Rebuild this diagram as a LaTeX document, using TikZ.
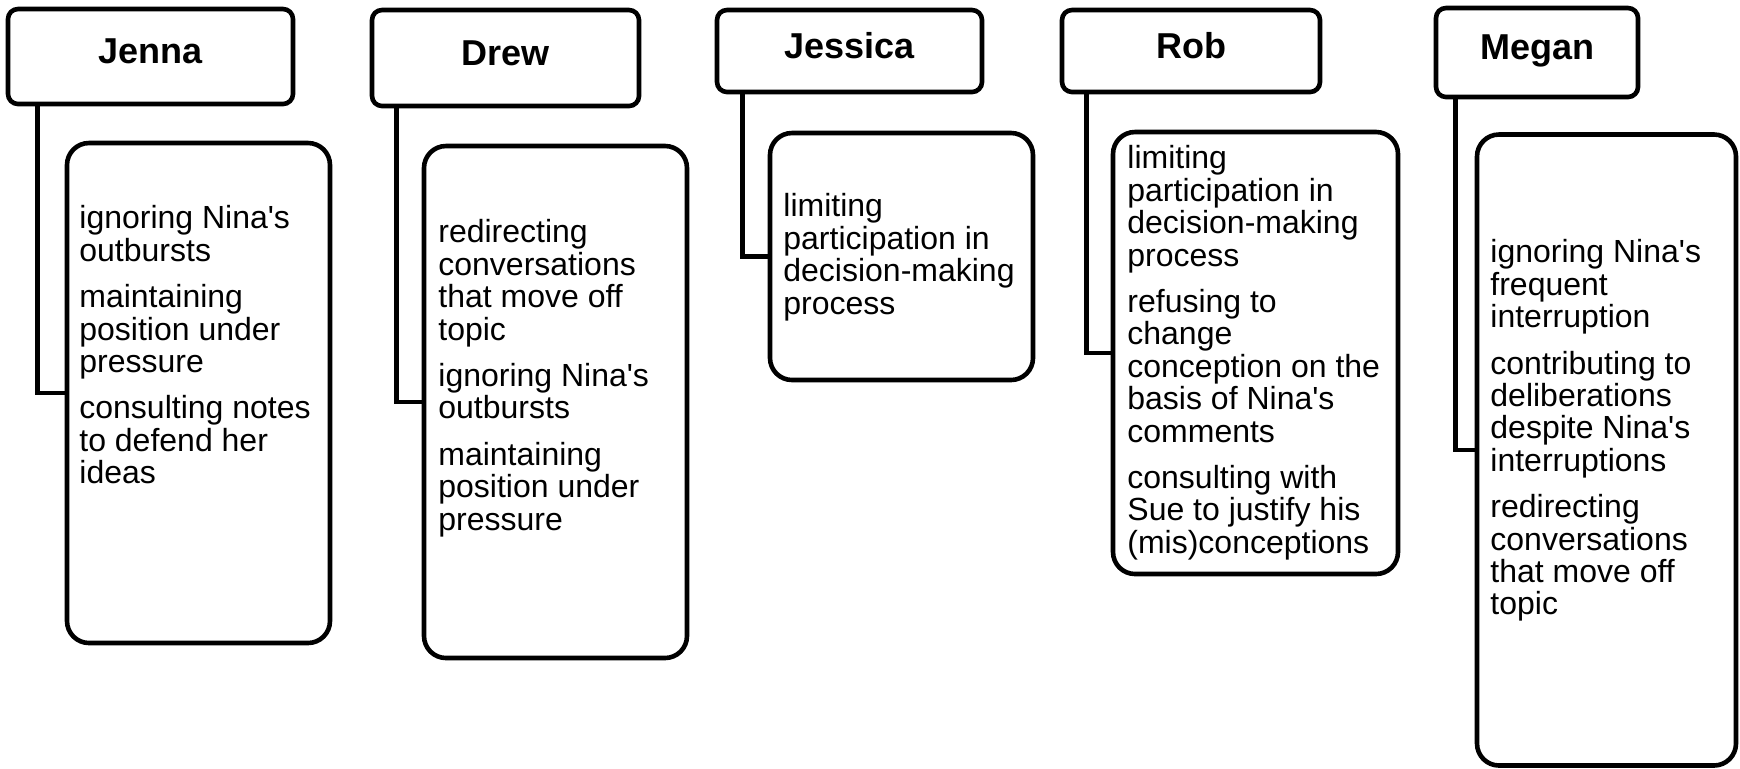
\documentclass[tikz,border=0pt]{standalone}
\usepackage{fontspec}
\setmainfont{Liberation Sans}[Ligatures=TeXOff]
\tikzset{
  hdr/.style={draw, line width=2.3pt, rounded corners=5pt, inner sep=0pt,
    font=\bfseries\fontsize{18}{20}\selectfont, text height=0.716em, text depth=0pt},
  cbox/.style={draw, line width=2.3pt, rounded corners=11pt, inner sep=0pt},
  itemtext/.style={inner sep=0pt, align=left, anchor=north west,
    font=\fontsize{16}{16.2}\selectfont, execute at begin node=\strut},
  link/.style={line width=2.3pt, line cap=rect}
}
\begin{document}
\begin{tikzpicture}[x=0.5pt, y=-0.5pt]
\useasboundingbox (0,0) rectangle (1740,768);
% headers
\node[hdr, minimum width=285*0.5pt, minimum height=95*0.5pt] (jenna) at (150.5,56.5) {Jenna};
\node[hdr, minimum width=267*0.5pt, minimum height=96*0.5pt] (drew) at (505.5,58) {Drew};
\node[hdr, minimum width=265*0.5pt, minimum height=82*0.5pt] (jessica) at (849.5,51) {Jessica};
\node[hdr, minimum width=258*0.5pt, minimum height=82*0.5pt] (rob) at (1191,51) {Rob};
\node[hdr, minimum width=202*0.5pt, minimum height=89*0.5pt] (megan) at (1537,52.5) {Megan};
% child boxes
\node[cbox, minimum width=263*0.5pt, minimum height=500*0.5pt] (jennabox) at (198.5,393) {};
\node[cbox, minimum width=263*0.5pt, minimum height=512*0.5pt] (drewbox) at (555.5,402) {};
\node[cbox, minimum width=263*0.5pt, minimum height=247*0.5pt] (jessicabox) at (901.5,256.5) {};
\node[cbox, minimum width=285*0.5pt, minimum height=442*0.5pt] (robbox) at (1255.5,353) {};
\node[cbox, minimum width=259*0.5pt, minimum height=631*0.5pt] (meganbox) at (1606.5,450) {};
% connectors
\draw[link] ([xshift=32*0.5pt]jenna.south west) |- (jennabox.west);
\draw[link] ([xshift=27*0.5pt]drew.south west) |- (drewbox.west);
\draw[link] ([xshift=28*0.5pt]jessica.south west) |- (jessicabox.west);
\draw[link] ([xshift=27*0.5pt]rob.south west) |- (robbox.west);
\draw[link] ([xshift=22*0.5pt]megan.south west) |- (meganbox.west);
% texts (first baseline minus strut height 22.7px)
\node[itemtext] (jennatext) at (79,205.3) {ignoring Nina's\\outbursts\\[7pt]maintaining\\position under\\pressure\\[7pt]consulting notes\\to defend her\\ideas};
\node[itemtext] (drewtext) at (438,219.3) {redirecting\\conversations\\that move off\\topic\\[7pt]ignoring Nina's\\outbursts\\[7pt]maintaining\\position under\\pressure};
\node[itemtext] (jessicatext) at (783,193.3) {limiting\\participation in\\decision-making\\process};
\node[itemtext] (robtext) at (1127,145.3) {limiting\\participation in\\decision-making\\process\\[7pt]refusing to\\change\\conception on the\\basis of Nina's\\comments\\[7pt]consulting with\\Sue to justify his\\(mis)conceptions};
\node[itemtext] (megantext) at (1490,239.3) {ignoring Nina's\\frequent\\interruption\\[7pt]contributing to\\deliberations\\despite Nina's\\interruptions\\[7pt]redirecting\\conversations\\that move off\\topic};
\end{tikzpicture}
\end{document}
